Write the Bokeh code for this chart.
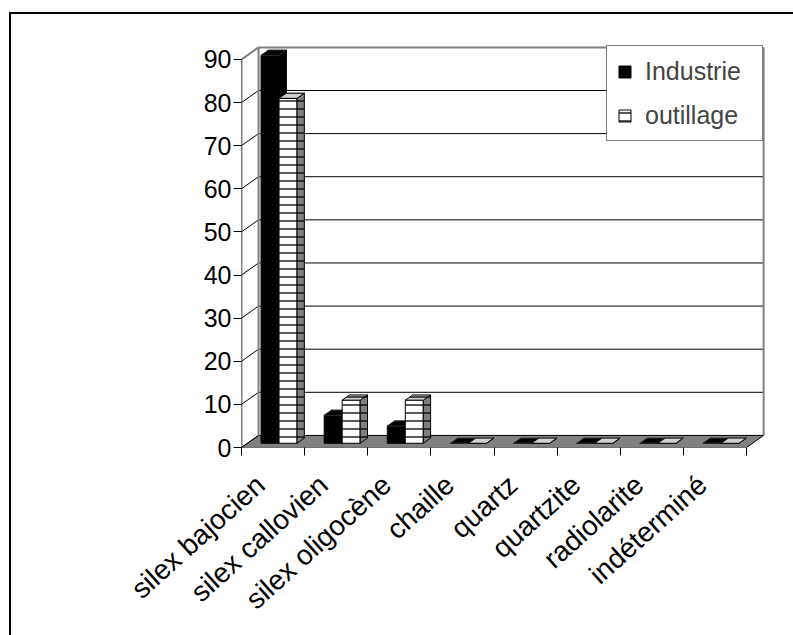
import math
from bokeh.plotting import figure
from bokeh.models import Range1d, FixedTicker, Legend, LegendItem
from bokeh.embed import file_html
from bokeh.resources import INLINE

# ---------------- data ----------------
categories = ["silex bajocien", "silex callovien", "silex oligocène", "chaille",
              "quartz", "quartzite", "radiolarite", "indéterminé"]
industrie = [90, 6.5, 4.0, 0, 0, 0, 0, 0]
outillage = [80, 10, 10, 0, 0, 0, 0, 0]
series_names = ["Industrie", "outillage"]
y_ticks = [0, 10, 20, 30, 40, 50, 60, 70, 80, 90]

# ---------------- 3D geometry (in data units) ----------------
N = len(categories)
Y_MAX = y_ticks[-1]
DX = 0.27      # depth shift along x (category units)
DY = 2.8       # depth shift along y (value units)
BAR_W = 0.285  # width of one bar (category units)
F0, F1 = 0.35, 0.78  # front / back depth fraction of the bars
LABEL_SHIFT = 0.2  # category labels sit a little left of the slot centre

FONT = "Liberation Sans"
FS = "25px"

p = figure(width=793, height=635, output_backend="svg", toolbar_location=None,
           x_range=Range1d(0, 8.30), y_range=Range1d(0, 93.7),
           min_border_left=241, min_border_right=28,
           min_border_top=43, min_border_bottom=188)
p.outline_line_color = None
p.grid.visible = False
p.background_fill_color = "white"
p.border_fill_color = None
# outer chart border (top and left sides are the only ones inside the window)
p.styles = {
    "background": "linear-gradient(black, black) 9px 12px / 2px 100% no-repeat, "
                  "linear-gradient(black, black) 9px 12px / 100% 2px no-repeat, white"
}

# floor
p.patch([0, N, N + DX, DX], [0, 0, DY, DY], fill_color="#808080",
        line_color="black", line_width=1)

# gridlines on back wall
grid_levels = [v for v in y_ticks if 0 < v < Y_MAX]
p.segment(x0=[DX] * len(grid_levels), y0=[v + DY for v in grid_levels],
          x1=[N + DX] * len(grid_levels), y1=[v + DY for v in grid_levels],
          line_color="black", line_width=1)
# gridlines on side wall
side_levels = [v for v in y_ticks if v < Y_MAX]
p.segment(x0=[0] * len(side_levels), y0=side_levels,
          x1=[DX] * len(side_levels), y1=[v + DY for v in side_levels],
          line_color="black", line_width=1)
# wall borders
p.segment(x0=[DX, N + DX, DX, 0], y0=[Y_MAX + DY, DY, DY, Y_MAX],
          x1=[N + DX, N + DX, DX, DX], y1=[Y_MAX + DY, Y_MAX + DY, Y_MAX + DY, Y_MAX + DY],
          line_color="#808080", line_width=2)
# value axis line
p.segment(x0=[0], y0=[0], x1=[0], y1=[Y_MAX], line_color="black", line_width=1.5)


def faces(values, s):
    fx, fy, sx, sy, tx, ty = [], [], [], [], [], []
    for i, v in enumerate(values):
        x0 = i + 0.5 - BAR_W + s * BAR_W
        x1 = x0 + BAR_W
        a0, b0 = F0 * DX, F0 * DY
        a1, b1 = F1 * DX, F1 * DY
        fx.append([x0 + a0, x1 + a0, x1 + a0, x0 + a0])
        fy.append([b0, b0, v + b0, v + b0])
        sx.append([x1 + a0, x1 + a1, x1 + a1, x1 + a0])
        sy.append([b0, b1, v + b1, v + b0])
        tx.append([x0 + a0, x1 + a0, x1 + a1, x0 + a1])
        ty.append([v + b0, v + b0, v + b1, v + b1])
    return fx, fy, sx, sy, tx, ty


hatch = dict(hatch_pattern="horizontal_line", hatch_color="black",
             hatch_scale=8, hatch_weight=1.3)

fx, fy, sx, sy, tx, ty = faces(industrie, 0)
r_ind = p.patches(fx, fy, fill_color="black", line_color="black", line_width=1)
p.patches(sx, sy, fill_color="black", line_color="black", line_width=1)
p.patches(tx, ty, fill_color="black", line_color="#303030", line_width=1)

fx, fy, sx, sy, tx, ty = faces(outillage, 1)
r_out = p.patches(fx, fy, fill_color="white", line_color="black", line_width=1, **hatch)
p.patches(sx, sy, fill_color="#808080", line_color="black", line_width=1, **hatch)
p.patches(tx, ty, fill_color="#d0d0d0", line_color="black", line_width=1, **hatch)

# ---------------- axes ----------------
yax = p.yaxis[0]
yax.ticker = FixedTicker(ticks=y_ticks, minor_ticks=[])
yax.axis_line_color = None
yax.major_tick_out = 8
yax.major_tick_in = 0
yax.major_tick_line_color = "black"
yax.minor_tick_line_color = None
yax.major_label_text_font = FONT
yax.major_label_text_font_size = FS
yax.major_label_text_color = "black"
yax.major_label_standoff = 2

label_pos = [i + 0.5 - LABEL_SHIFT for i in range(N)]
xax = p.xaxis[0]
xax.ticker = FixedTicker(ticks=label_pos, minor_ticks=list(range(N + 1)))
xax.major_label_overrides = {t: c for t, c in zip(label_pos, categories)}
xax.major_label_orientation = math.radians(42)
xax.axis_line_color = None
xax.major_tick_line_color = None
xax.minor_tick_line_color = "black"
xax.minor_tick_out = 8
xax.minor_tick_in = 0
xax.major_label_text_font = FONT
xax.major_label_text_font_size = "28px"
xax.major_label_text_color = "black"
xax.major_label_standoff = 25

# ---------------- legend ----------------
legend = Legend(items=[LegendItem(label=series_names[0], renderers=[r_ind]),
                       LegendItem(label=series_names[1], renderers=[r_out])],
                location="top_right", margin=2, padding=10, spacing=14,
                glyph_width=15, glyph_height=15, label_standoff=13,
                label_height=30, label_width=107,
                label_text_font=FONT, label_text_font_size=FS,
                border_line_color="black", border_line_width=1,
                background_fill_color="white", background_fill_alpha=1)
p.add_layout(legend)

open("out.html", "w").write(file_html(p, INLINE))
